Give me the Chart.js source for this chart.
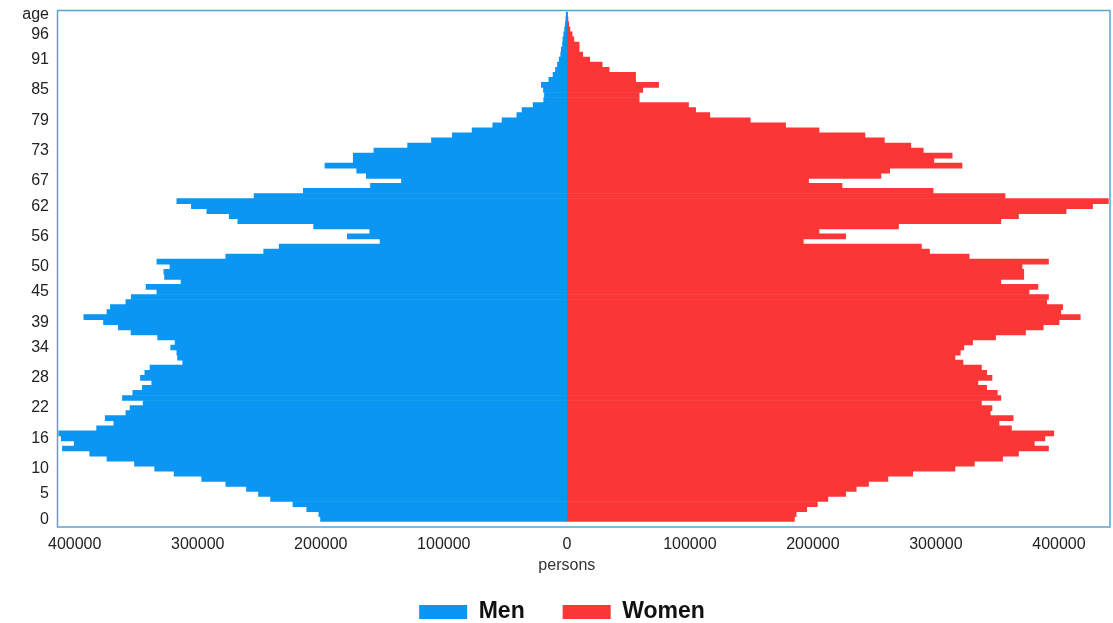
<!DOCTYPE html>
<html>
<head>
<meta charset="utf-8">
<script src="https://cdn.jsdelivr.net/npm/chart.js@4.4.1/dist/chart.umd.min.js"></script>
<style>
  html, body { margin: 0; padding: 0; background: #fff; }
  #wrap { width: 1113px; height: 623px; position: relative; }
</style>
</head>
<body>
<div id="wrap"><canvas id="pyramid"></canvas></div>
<script>
  // ages 0..100, one bar per year
  const ages = [
    0, 1, 2, 3, 4, 5, 6, 7, 8, 9, 10, 11, 12, 13, 14, 15, 16, 17, 18, 19,
    20, 21, 22, 23, 24, 25, 26, 27, 28, 29, 30, 31, 32, 33, 34, 35, 36, 37, 38, 39,
    40, 41, 42, 43, 44, 45, 46, 47, 48, 49, 50, 51, 52, 53, 54, 55, 56, 57, 58, 59,
    60, 61, 62, 63, 64, 65, 66, 67, 68, 69, 70, 71, 72, 73, 74, 75, 76, 77, 78, 79,
    80, 81, 82, 83, 84, 85, 86, 87, 88, 89, 90, 91, 92, 93, 94, 95, 96, 97, 98, 99, 100
  ];

  const men = [
    200200, 201600, 211400, 222600, 240800, 250600, 260400, 277200, 296800, 319200,
    335000, 351400, 373800, 387800, 410000, 400400, 411000, 413000, 382200, 368200,
    375200, 358400, 355000, 344400, 361200, 352800, 345000, 337400, 346600, 343000,
    338800, 312200, 316400, 317000, 322000, 318400, 332600, 354200, 364600, 376600,
    392600, 373800, 371000, 358400, 354000, 333200, 342000, 313600, 327000, 327600,
    322600, 333200, 277200, 246400, 233800, 151800, 178400, 160200, 205800, 267400,
    274400, 292600, 305200, 317000, 254200, 214200, 159600, 134400, 163000, 170800,
    196600, 173600, 173600, 156800, 129400, 110000, 93000, 77000, 60200, 52600,
    40600, 36400, 27400, 18800, 18200, 19000, 20700, 14600, 11200, 9200,
    7600, 6200, 5000, 4500, 3500, 3200, 2500, 1800, 1200, 800, 500
  ];

  const women = [
    185000, 186400, 195000, 203600, 212200, 226600, 235200, 245200, 261000, 281100,
    315500, 331300, 354200, 367100, 391500, 380000, 388600, 395800, 361400, 351300,
    362800, 344200, 345600, 337000, 352800, 349900, 341300, 334100, 345600, 341300,
    337000, 322000, 315500, 319800, 322700, 329800, 348500, 372800, 387200, 400100,
    417300, 401500, 403000, 390000, 391500, 375700, 382900, 352800, 371400, 371400,
    370000, 391500, 327000, 294800, 288200, 192200, 226600, 205000, 269600, 352800,
    367100, 405800, 427300, 440200, 356200, 297700, 223700, 196500, 255300, 262400,
    321200, 298300, 313200, 289700, 279600, 258100, 242300, 205000, 177800, 149100,
    116200, 104700, 98900, 58800, 58800, 61700, 74600, 55900, 55900, 34400,
    28700, 18600, 12900, 10000, 10000, 5700, 4300, 2500, 1500, 900, 600
  ];

  // ages that get a label on the left axis
  const tickAges = [0, 5, 10, 16, 22, 28, 34, 39, 45, 50, 56, 62, 67, 73, 79, 85, 91, 96];
  // thin white lines across the bars (at the bottom edge of these ages)
  const gridAges = [8, 22, 36, 50, 65, 79, 93];
  // persons axis ticks (men to the left, shown without sign)
  const personTicks = [-400000, -300000, -200000, -100000, 0, 100000, 200000, 300000, 400000];

  const xMin = -414000;
  const xMax = 441500;

  const FONT = "'Liberation Sans', Arial, sans-serif";

  // frame around the plot + "persons" title under the zero tick
  const framePlugin = {
    id: "frame",
    afterDraw(chart) {
      const { ctx, chartArea: a, scales } = chart;
      ctx.save();
      ctx.strokeStyle = "#5aa3cf";
      ctx.lineWidth = 1.5;
      ctx.strokeRect(a.left, a.top - 1.2, a.right - a.left, a.bottom - a.top + 6.5);
      ctx.fillStyle = "#333";
      ctx.font = "16px " + FONT;
      ctx.textAlign = "center";
      ctx.textBaseline = "middle";
      ctx.fillText("persons", scales.x.getPixelForValue(0), 566);
      ctx.restore();
    },
  };

  new Chart(document.getElementById("pyramid"), {
    type: "bar",
    data: {
      labels: ages,
      datasets: [
        {
          label: "Men",
          data: men.map((v) => -v),
          backgroundColor: "#0a96f2",
          borderWidth: 0,
          barPercentage: 1,
          categoryPercentage: 1,
        },
        {
          label: "Women",
          data: women,
          backgroundColor: "#fb3636",
          borderWidth: 0,
          barPercentage: 1,
          categoryPercentage: 1,
        },
      ],
    },
    options: {
      indexAxis: "y",
      responsive: true,
      maintainAspectRatio: false,
      animation: false,
      layout: { padding: { top: 11.7, left: 14, right: 3, bottom: -10.5 } },
      plugins: {
        tooltip: { enabled: false },
        legend: {
          position: "bottom",
          labels: {
            boxWidth: 48,
            boxHeight: 14,
            padding: 38,
            color: "#111",
            font: { family: FONT, size: 23, weight: "bold" },
          },
        },
      },
      scales: {
        x: {
          stacked: true,
          min: xMin,
          max: xMax,
          grid: { display: false },
          border: { display: false },
          afterBuildTicks: (s) => { s.ticks = personTicks.map((v) => ({ value: v })); },
          ticks: {
            padding: 5.7,
            maxRotation: 0,
            minRotation: 0,
            color: "#222",
            font: { family: FONT, size: 16 },
            callback: (v) => String(Math.abs(v)),
          },
          afterFit: (s) => { s.height = 40.8; s.paddingLeft = 0; s.paddingRight = 0; },
        },
        y: {
          stacked: true,
          reverse: true,
          z: 1,
          border: { display: false },
          grid: {
            drawTicks: false,
            lineWidth: 1.5,
            color: (c) => (gridAges.includes(c.index) ? "rgba(255,255,255,0.9)" : "rgba(0,0,0,0)"),
          },
          ticks: {
            autoSkip: false,
            padding: 8.5,
            color: "#222",
            font: { family: FONT, size: 16 },
            callback: (v, i) => {
              if (i === ages.length - 1) return "age";
              return tickAges.includes(ages[i]) ? String(ages[i]) : "";
            },
          },
          afterFit: (s) => { s.width = 43.5; s.paddingTop = 0; s.paddingBottom = 0; },
        },
      },
    },
    plugins: [framePlugin],
  });
</script>
</body>
</html>
